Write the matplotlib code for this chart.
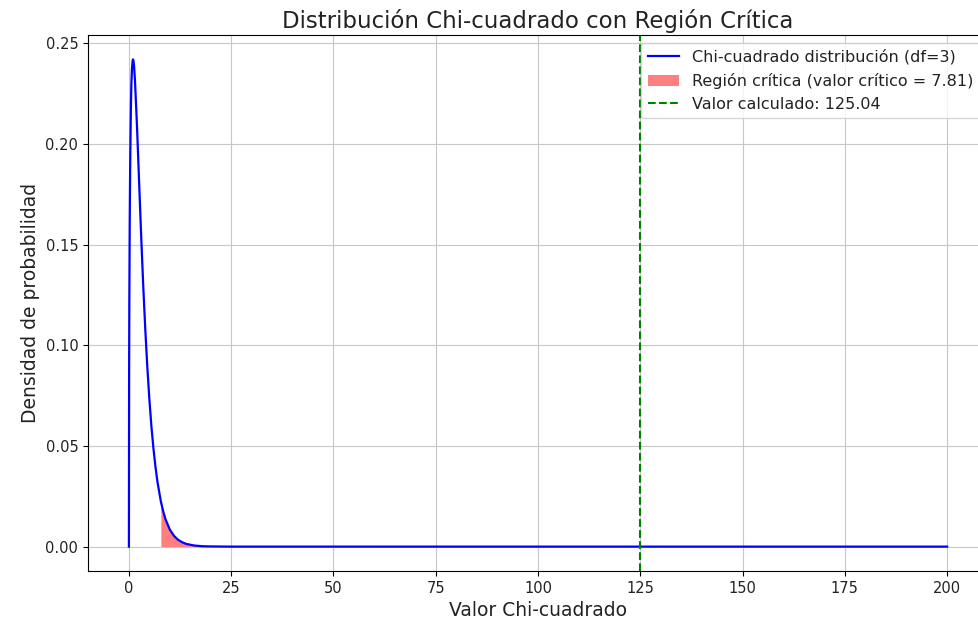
import matplotlib.pyplot as plt
import numpy as np

# Valores (densidad chi-cuadrado, df=3)
x_vals = [0, 0.05, 0.1, 0.2, 0.3, 0.4, 0.5, 0.6, 0.75, 0.9, 1, 1.1, 1.25, 1.5,
          1.75, 2, 2.5, 3, 3.5, 4, 4.5, 5, 5.5, 6, 6.5, 7, 7.81, 8.5,
          9, 10, 11, 12, 13, 14, 16, 18, 20, 25, 200]
densidad = [0.0, 0.0870, 0.1200, 0.1614, 0.1869, 0.2043, 0.2197, 0.2297,
            0.2374, 0.2411, 0.2420, 0.2414, 0.2390, 0.2308, 0.2193, 0.2076,
            0.1807, 0.1542, 0.1295, 0.1080, 0.0892, 0.0732, 0.0597, 0.0487,
            0.0395, 0.0319, 0.0224, 0.0166, 0.0133, 0.0085, 0.0054, 0.0034,
            0.0022, 0.00136, 0.00054, 0.0002, 0.0001, 0.00001, 0.0]
df = 3
valor_critico = 7.81
valor_calculado = 125.04

x = np.array(x_vals)
y = np.array(densidad)

plt.rcParams['text.color'] = '#222222'
plt.rcParams['axes.labelcolor'] = '#222222'
plt.rcParams['xtick.labelcolor'] = '#222222'
plt.rcParams['ytick.labelcolor'] = '#222222'

fig = plt.figure(figsize=(9.79, 6.28), dpi=100)
ax = fig.add_axes([88 / 979, 57 / 628, 900 / 979, 536 / 628])

ax.plot(x, y, color='blue', linewidth=1.6,
        label=f'Chi-cuadrado distribución (df={df})')
mask = x >= valor_critico
ax.fill_between(x[mask], y[mask], color='red', alpha=0.5, linewidth=0,
                label=f'Región crítica (valor crítico = {valor_critico})')
ax.axvline(valor_calculado, color='green', linestyle='--',
           label=f'Valor calculado: {valor_calculado}')

ax.set_title('Distribución Chi-cuadrado con Región Crítica', fontsize=16.5, pad=5)
ax.set_xlabel('Valor Chi-cuadrado', fontsize=13.5)
ax.set_ylabel('Densidad de probabilidad', fontsize=13.5)
ax.tick_params(labelsize=10.5)
ax.legend(loc='upper right', fontsize=11.5)
ax.grid(True, color='#c8c8c8')

fig.savefig('out.png', dpi=100)
